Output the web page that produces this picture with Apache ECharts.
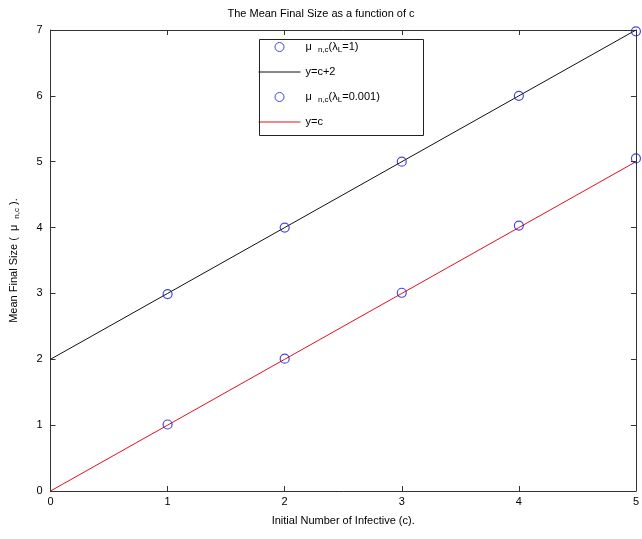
<!DOCTYPE html>
<html><head><meta charset="utf-8">
<script src="https://cdn.jsdelivr.net/npm/echarts@6/dist/echarts.min.js"></script>
<style>html,body{margin:0;padding:0;background:#fff}#c{width:642px;height:539px}</style>
</head><body><div id="c"></div>
<script>
const cValues = [1, 2, 3, 4, 5];
const muLambda1 = [2.99, 4.0, 5.0, 6.0, 6.98];
const muLambda0001 = [1.01, 2.01, 3.01, 4.03, 5.05];
const lineC = [0, 1, 2, 3, 4, 5];
const lineCplus2 = [2, 3, 4, 5, 6, 7];
const lineY = [0, 1, 2, 3, 4, 5];
const xTicks = [0, 1, 2, 3, 4, 5];
const yTicks = [0, 1, 2, 3, 4, 5, 6, 7];

const FONT = 'Liberation Sans, Arial, sans-serif';
const chart = echarts.init(document.getElementById('c'));
const axisCommon = {
  type: 'value',
  axisLine: {show: true, onZero: false, lineStyle: {color: '#333', width: 1}},
  axisTick: {show: true, inside: true, length: 5, lineStyle: {color: '#333'}},
  splitLine: {show: false},
  axisLabel: {color: '#000', fontFamily: FONT, fontSize: 11}
};
const rich = {
  sub: {fontSize: 8, fontFamily: FONT, color: '#000', lineHeight: 14, padding: [6, 0, 0, 0]},
  t: {fontSize: 11, fontFamily: FONT, color: '#000', lineHeight: 14}
};
function legendText(name) {
  if (name === 'mu1') return '{t|μ  }{sub|n,c}{t|(λ}{sub|L}{t|=1)}';
  if (name === 'mu2') return '{t|μ  }{sub|n,c}{t|(λ}{sub|L}{t|=0.001)}';
  return '{t|' + name + '}';
}
const hiddenDot = {color: 'rgba(0,0,0,0)', borderColor: 'rgba(0,0,0,0)', borderWidth: 0};
chart.setOption({
  animation: false,
  backgroundColor: '#fff',
  title: {text: 'The Mean Final Size as a function of c', left: 'center', top: 3,
    textStyle: {fontFamily: FONT, fontSize: 11, fontWeight: 'normal', color: '#000'}},
  grid: {left: 50, right: 5, top: 30, bottom: 48},
  xAxis: [
    Object.assign({}, axisCommon, {min: 0, max: 5, interval: 1, position: 'bottom',
      name: 'Initial Number of Infective (c).', nameLocation: 'middle', nameGap: 24,
      nameTextStyle: {fontFamily: FONT, fontSize: 11, color: '#000'},
      axisLabel: Object.assign({}, axisCommon.axisLabel, {margin: 5, formatter: v => xTicks.includes(v) ? String(v) : ''})}),
    Object.assign({}, axisCommon, {min: 0, max: 5, interval: 1, position: 'top', axisLabel: {show: false}})
  ],
  yAxis: [
    Object.assign({}, axisCommon, {min: 0, max: 7, interval: 1, position: 'left',
      name: '{t|Mean Final Size (  μ  }{sub|n,c}{t| ).}', nameLocation: 'middle', nameGap: 30,
      nameTextStyle: {fontFamily: FONT, fontSize: 11, color: '#000', rich: {
        t: {fontSize: 11, fontFamily: FONT, color: '#000'},
        sub: {fontSize: 8, fontFamily: FONT, color: '#000', padding: [6, 0, 0, 0]}}},
      axisLabel: Object.assign({}, axisCommon.axisLabel, {margin: 8, formatter: v => yTicks.includes(v) ? String(v) : ''})}),
    Object.assign({}, axisCommon, {min: 0, max: 7, interval: 1, position: 'right', axisLabel: {show: false}})
  ],
  legend: {
    orient: 'vertical', left: 258, top: 40, padding: 0, itemWidth: 42, itemHeight: 9, itemGap: 11,
    symbolKeepAspect: true, selectedMode: false, formatter: legendText,
    textStyle: {fontFamily: FONT, fontSize: 11, color: '#000', lineHeight: 14, rich: rich},
    data: [
      {name: 'mu1', icon: 'circle', itemStyle: {borderWidth: 1}},
      {name: 'y=c+2', itemStyle: hiddenDot, lineStyle: {width: 1, color: '#111'}},
      {name: 'mu2', icon: 'circle', itemStyle: {borderWidth: 1}},
      {name: 'y=c', itemStyle: hiddenDot, lineStyle: {width: 1, color: '#e01020'}}
    ]
  },
  graphic: [{type: 'rect', left: 257, top: 37, shape: {width: 164, height: 96},
    style: {fill: 'none', stroke: '#222', lineWidth: 1}, z: 100}],
  series: [
    {name: 'y=c+2', type: 'line', showSymbol: false, symbol: 'none',
      data: lineC.map((c, i) => [c, lineCplus2[i]]), lineStyle: {color: '#111', width: 1}, itemStyle: {color: '#111'}, z: 2},
    {name: 'y=c', type: 'line', showSymbol: false, symbol: 'none',
      data: lineC.map((c, i) => [c, lineY[i]]), lineStyle: {color: '#e01020', width: 1}, itemStyle: {color: '#e01020'}, z: 2},
    {name: 'mu1', type: 'scatter', symbol: 'circle', symbolSize: 9,
      data: cValues.map((c, i) => [c, muLambda1[i]]),
      itemStyle: {color: 'rgba(0,0,0,0)', borderColor: '#1a1acc', borderWidth: 1.2}, z: 3},
    {name: 'mu2', type: 'scatter', symbol: 'circle', symbolSize: 9,
      data: cValues.map((c, i) => [c, muLambda0001[i]]),
      itemStyle: {color: 'rgba(0,0,0,0)', borderColor: '#1a1acc', borderWidth: 1.2}, z: 3}
  ]
});
</script></body></html>
